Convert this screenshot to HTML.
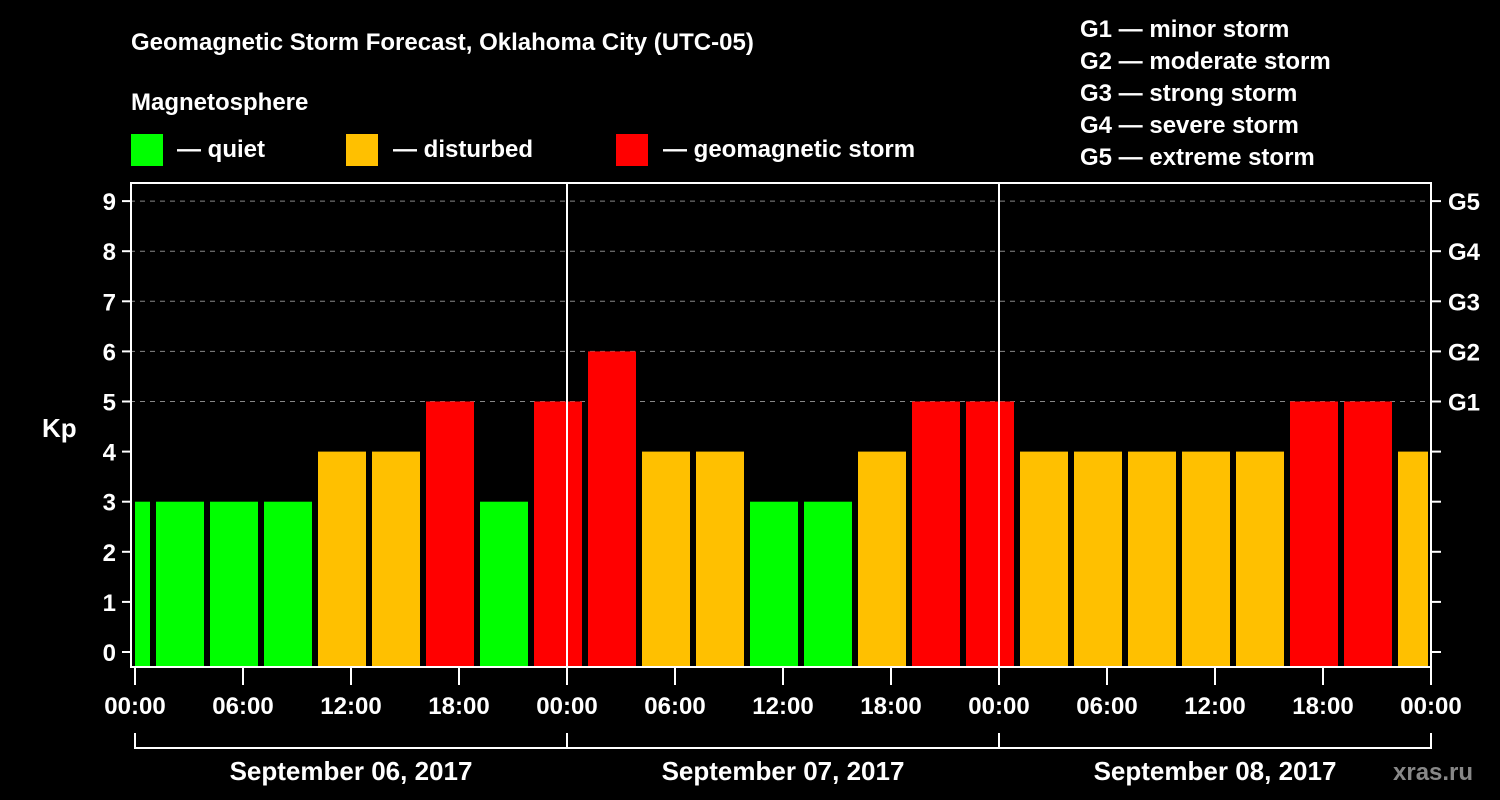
<!DOCTYPE html>
<html><head><meta charset="utf-8"><style>
html,body{margin:0;padding:0;background:#000;}
svg{display:block;font-family:"Liberation Sans",Arial,sans-serif;font-weight:bold;}
</style></head><body>
<svg id="chart" width="1500" height="800" viewBox="0 0 1500 800">
<rect width="1500" height="800" fill="#000"/>
<text x="131" y="50" fill="#fff" font-size="24">Geomagnetic Storm Forecast, Oklahoma City (UTC-05)</text>
<text x="131" y="110" fill="#fff" font-size="24">Magnetosphere</text>
<g><rect x="131" y="134" width="32" height="32" fill="#00ff00"/><text x="177" y="157" fill="#fff" font-size="24">— quiet</text></g>
<g><rect x="346" y="134" width="32" height="32" fill="#ffc000"/><text x="393" y="157" fill="#fff" font-size="24">— disturbed</text></g>
<g><rect x="616" y="134" width="32" height="32" fill="#ff0000"/><text x="663" y="157" fill="#fff" font-size="24">— geomagnetic storm</text></g>
<g fill="#fff" font-size="24">
<text x="1080" y="37">G1 — minor storm</text>
<text x="1080" y="69">G2 — moderate storm</text>
<text x="1080" y="101">G3 — strong storm</text>
<text x="1080" y="133">G4 — severe storm</text>
<text x="1080" y="165">G5 — extreme storm</text>
</g>
<text x="42" y="437" fill="#fff" font-size="26">Kp</text>
<g id="grid"></g>
<g id="bars"></g>
<g id="axes"></g>
<text x="1393" y="780" fill="#888" font-size="24">xras.ru</text>
</svg>
<script>
const kpValues = [3, 3,3,3,4,4,5,3,5, 6,4,4,3,3,4,5,5, 4,4,4,4,4,5,5,4];
const barStartHours = [-2,1,4,7,10,13,16,19,22,25,28,31,34,37,40,43,46,49,52,55,58,61,64,67,70];
const yTicks = [0,1,2,3,4,5,6,7,8,9];
const gLabels = ["","","","","","G1","G2","G3","G4","G5"];
const xTickLabels = ["00:00","06:00","12:00","18:00","00:00","06:00","12:00","18:00","00:00","06:00","12:00","18:00","00:00"];
const dayLabels = ["September 06, 2017","September 07, 2017","September 08, 2017"];

const NS="http://www.w3.org/2000/svg";
const X0=135, PXH=18, Y0=652, PXK=50.1, L=130, R=1432, T=182, B=668;
const xs=h=>X0+h*PXH, ys=v=>Y0-v*PXK;
function mk(tag,attrs,parent,text){const e=document.createElementNS(NS,tag);for(const k in attrs)e.setAttribute(k,attrs[k]);if(text!==undefined)e.textContent=text;parent.appendChild(e);return e;}
const grid=document.getElementById('grid'),bars=document.getElementById('bars'),axes=document.getElementById('axes');
function color(v){return v>=5?'#ff0000':(v>=4?'#ffc000':'#00ff00');}
yTicks.forEach((t,i)=>{
  const y=ys(t);
  if(t>=5){const g=mk('line',{x1:L,x2:R,y1:y,y2:y,stroke:'#888','stroke-dasharray':'5,5','stroke-width':1},grid);
    
    }
  mk('line',{x1:122,x2:L,y1:y,y2:y,stroke:'#fff','stroke-width':2},axes);
  mk('line',{x1:R,x2:1441,y1:y,y2:y,stroke:'#fff','stroke-width':2},axes);
  const lb=mk('text',{x:116,y:y+9,fill:'#fff','font-size':24,'text-anchor':'end'},axes,String(t));
  
  
  if(gLabels[i]){const gl=mk('text',{x:1448,y:y+9,fill:'#fff','font-size':24},axes,gLabels[i]);
    
    }
});
kpValues.forEach((v,i)=>{
  let x1=xs(barStartHours[i])+3, x2=xs(barStartHours[i]+3)-3;
  x1=Math.max(x1,X0); x2=Math.min(x2,1428);
  const r=mk('rect',{x:x1,y:ys(v),width:x2-x1,height:Y0-ys(v)+14,fill:color(v)},bars);
  
  
});
[24,48].forEach(h=>mk('line',{x1:xs(h),x2:xs(h),y1:T,y2:B,stroke:'#fff','stroke-width':2},axes));
const fr=mk('rect',{x:L+1,y:T+1,width:R-L-2,height:B-T-2,fill:'none',stroke:'#fff','stroke-width':2},axes);


xTickLabels.forEach((s,i)=>{
  const x=xs(i*6);
  mk('line',{x1:x,x2:x,y1:B,y2:685,stroke:'#fff','stroke-width':2},axes);
  const t=mk('text',{x:x,y:714,fill:'#fff','font-size':24,'text-anchor':'middle'},axes,s);
  
  
});
mk('line',{x1:xs(0),x2:xs(72),y1:748,y2:748,stroke:'#fff','stroke-width':2},axes);
[0,24,48,72].forEach(h=>mk('line',{x1:xs(h),x2:xs(h),y1:733,y2:749,stroke:'#fff','stroke-width':2},axes));
dayLabels.forEach((d,i)=>{
  const t=mk('text',{x:xs(i*24+12),y:780,fill:'#fff','font-size':26,'text-anchor':'middle'},axes,d);
  
  
});
</script>
</body></html>
